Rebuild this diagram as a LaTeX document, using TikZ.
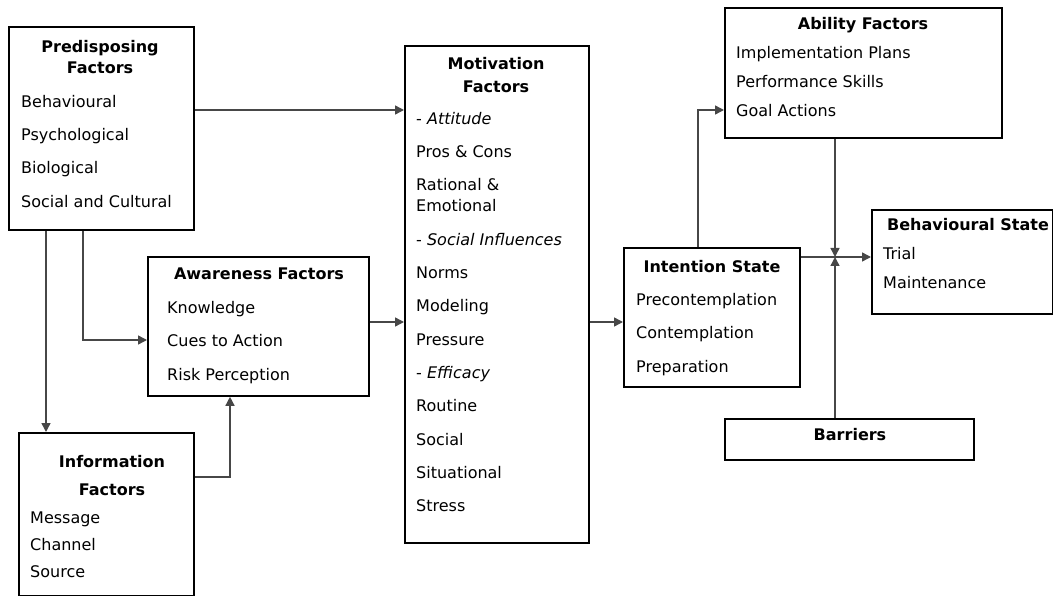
\documentclass[tikz,border=0pt]{standalone}
\usepackage{fontspec}
\setmainfont{DejaVu Sans}
\usetikzlibrary{arrows.meta}

\begin{document}
\begin{tikzpicture}[x=1pt, y=-1pt, >={Triangle[length=9pt,width=9pt]},
    box/.style={draw, line width=1.8pt, anchor=north west, inner sep=0pt},
    head/.style={anchor=north, align=center, inner sep=0pt, font=\fontsize{16}{21.5}\selectfont\bfseries},
    items/.style={anchor=north west, align=left, inner sep=0pt, font=\fontsize{16}{33.3}\selectfont},
    link/.style={->, line width=1.4pt, draw=black!72}]
    \useasboundingbox (0,0) rectangle (1053,596);
    % Boxes
    \node[box, minimum width=185pt, minimum height=203pt] (pre) at (8,26) {};
    \node[box, minimum width=184pt, minimum height=497pt] (mot) at (404,45) {};
    \node[box, minimum width=221pt, minimum height=139pt] (awa) at (147,256) {};
    \node[box, minimum width=175pt, minimum height=163pt] (inf) at (18,432) {};
    \node[box, minimum width=176pt, minimum height=139pt] (int) at (623,247) {};
    \node[box, minimum width=277pt, minimum height=130pt] (abi) at (724,7) {};
    \node[box, minimum width=181pt, minimum height=104pt] (beh) at (871,209) {};
    \node[box, minimum width=249pt, minimum height=41pt] (bar) at (724,418) {};
    % Titles
    \node[head] (pre-t) at (100,40) {Predisposing\\Factors};
    \node[head, font=\fontsize{16}{23}\selectfont\bfseries] (mot-t) at (496,57) {Motivation\\Factors};
    \node[head] (awa-t) at (259,268) {Awareness Factors};
    \node[head, font=\fontsize{16}{28}\selectfont\bfseries] (inf-t) at (112,455) {Information\\Factors};
    \node[head] (int-t) at (712,260) {Intention State};
    \node[head] (abi-t) at (863,17) {Ability Factors};
    \node[head] (beh-t) at (968,218) {Behavioural State};
    \node[head] (bar-t) at (850,428) {Barriers};
    % Lists
    \node[items] (pre-l) at (21,95) {Behavioural\\Psychological\\Biological\\Social and Cultural};
    \node[items] (mot-l) at (416,112) {- \textit{Attitude}\\Pros \& Cons\\Rational \&\\[-12.3pt]Emotional\\
        - \textit{Social Influences}\\Norms\\Modeling\\Pressure\\- \textit{Efficacy}\\Routine\\Social\\Situational\\Stress};
    \node[items, font=\fontsize{16}{33.5}\selectfont] (awa-l) at (167,301) {Knowledge\\Cues to Action\\Risk Perception};
    \node[items, font=\fontsize{16}{27}\selectfont] (inf-l) at (30,511.3) {Message\\Channel\\Source};
    \node[items, font=\fontsize{16}{33.5}\selectfont] (int-l) at (636,293) {Precontemplation\\Contemplation\\Preparation};
    \node[items, font=\fontsize{16}{29}\selectfont] (abi-l) at (736,46) {Implementation Plans\\Performance Skills\\Goal Actions};
    \node[items, font=\fontsize{16}{29}\selectfont] (beh-l) at (883,247) {Trial\\Maintenance};
    % Connectors
    \coordinate (jn) at (835,257);
    \draw[link] (pre.east |- 0,110) -- (mot.west |- 0,110);
    \draw[link] (pre.south -| 46,0) -- (inf.north -| 46,0);
    \draw[link] (pre.south -| 83,0) |- (awa.west |- 0,340);
    \draw[link] (inf.east |- 0,477) -| (awa.south -| 230,0);
    \draw[link] (awa.east |- 0,322) -- (mot.west |- 0,322);
    \draw[link] (mot.east |- 0,322) -- (int.west |- 0,322);
    \draw[link] (int.north -| 698,0) |- (abi.west |- 0,110);
    \draw[link] (int.east |- jn) -- (beh.west |- jn);
    \draw[link] (abi.south -| jn) -- (jn);
    \draw[link] (bar.north -| jn) -- (jn);
\end{tikzpicture}
\end{document}
